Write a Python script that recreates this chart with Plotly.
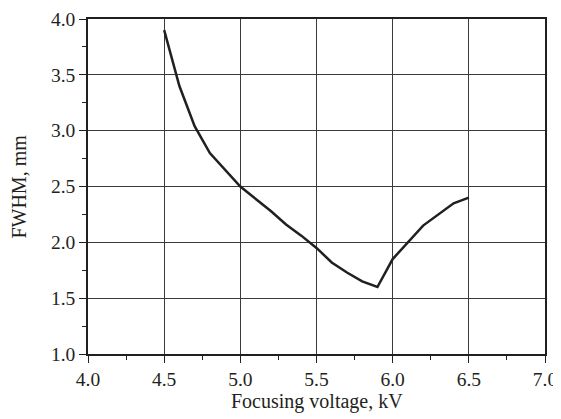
import plotly.graph_objects as go

voltage_kv = [4.5, 4.6, 4.7, 4.8, 5.0, 5.1, 5.2, 5.3, 5.4, 5.5, 5.6, 5.7, 5.8, 5.9, 6.0, 6.2, 6.4, 6.5]
fwhm_mm = [3.9, 3.4, 3.04, 2.8, 2.5, 2.39, 2.28, 2.16, 2.06, 1.95, 1.82, 1.73, 1.65, 1.6, 1.85, 2.15, 2.35, 2.4]

x_ticks = [4.0, 4.5, 5.0, 5.5, 6.0, 6.5, 7.0]
y_ticks = [1.0, 1.5, 2.0, 2.5, 3.0, 3.5, 4.0]

fig = go.Figure()
fig.add_trace(go.Scatter(x=voltage_kv, y=fwhm_mm, mode="lines",
                         line=dict(color="#231f20", width=2.5), showlegend=False))

font_family = "Liberation Serif, Times New Roman, serif"
axis_common = dict(
    showgrid=True, gridcolor="#3a3a3a", gridwidth=1,
    showline=True, linecolor="#231f20", linewidth=1.5, mirror=True,
    ticks="outside", ticklen=7, tickwidth=1.2, tickcolor="#231f20",
    tickfont=dict(family=font_family, size=19.5, color="#231f20"),
    zeroline=False, automargin=False,
    minor=dict(ticks="outside", ticklen=4, tickwidth=1.2, tickcolor="#231f20", dtick=0.25, showgrid=False),
)
fig.update_xaxes(range=[4.0, 7.0], tickvals=x_ticks, ticktext=[f"{v:.1f}" for v in x_ticks], **axis_common)
fig.update_yaxes(range=[1.0, 4.0], tickvals=y_ticks, ticktext=[f"{v:.1f}" for v in y_ticks], **axis_common)
fig.add_annotation(text="Focusing voltage, kV", xref="paper", yref="paper", x=0.5, y=-0.143,
                   xanchor="center", yanchor="middle", showarrow=False,
                   font=dict(family=font_family, size=20, color="#231f20"))
fig.add_annotation(text="FWHM, mm", xref="paper", yref="paper", x=-0.153, y=0.5,
                   xanchor="center", yanchor="middle", showarrow=False, textangle=-90,
                   font=dict(family=font_family, size=20, color="#231f20"))
fig.update_layout(width=561, height=411, margin=dict(l=80, r=24, t=11, b=65),
                  plot_bgcolor="white", paper_bgcolor="white")
fig.write_html("out.html")
